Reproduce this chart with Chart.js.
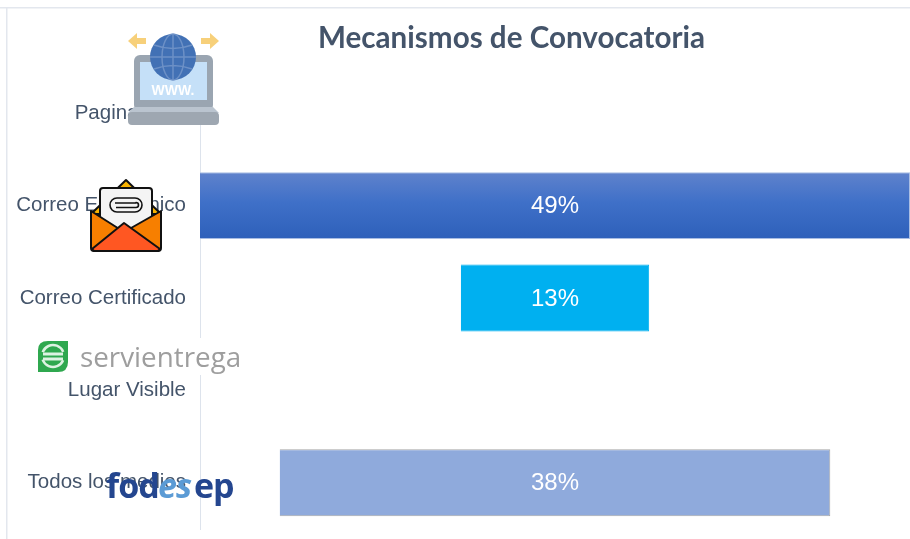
<!DOCTYPE html>
<html><head><meta charset="utf-8">
<style>html,body{margin:0;padding:0;background:#fff;overflow:hidden}#w{position:absolute;left:0;top:0;width:910px;height:539px}</style>
<script src="https://cdn.jsdelivr.net/npm/chart.js@4/dist/chart.umd.min.js"></script>
</head><body><div id="w"><canvas id="c" width="910" height="539"></canvas></div>
<script>
const categories = ["Pagina Web","Correo Electrónico","Correo Certificado","Lugar Visible","Todos los medios"];
const values = [0,49,13,0,38];
const chartTitle = "Mecanismos de Convocatoria";
const barColors = ["#3F6FC4","#3F6FC4","#00B0F0","#8FAADC","#8FAADC"];
const barEdges = ["#A9BDE3","#A9BDE3","#00B0F0","#A6A6A6","#A6A6A6"];
const span = Math.max(...values);

function rr(x,c1,y,w,h,r,fill){x.beginPath();x.roundRect(c1,y,w,h,r);x.fillStyle=fill;x.fill();}

const frame = {id:'frame',beforeDraw(ch){const x=ch.ctx;x.save();x.fillStyle='#fff';x.fillRect(0,0,910,539);
  x.fillStyle='#E3E7EE';x.fillRect(0,7,910,1.5);x.fillRect(6,7,1.5,532);x.restore();}};

const titleShift = {id:'titleShift',afterLayout(ch){ch.titleBlock.left=318;ch.titleBlock.right=705;}};

const barText = {id:'barText',afterDatasetsDraw(ch){const x=ch.ctx,m=ch.getDatasetMeta(0);x.save();
  x.fillStyle='#fff';x.font='24px "Liberation Sans"';x.textAlign='center';x.textBaseline='middle';
  m.data.forEach((b,i)=>{if(values[i]>0){x.fillText(values[i]+'%',ch.scales.x.getPixelForValue(0),b.y+1);}});x.restore();}};

function laptop(x){
  x.fillStyle='#F7D07A';
  [[146,128],[201,219]].forEach(([a,t])=>{const d=t>a?1:-1;x.beginPath();x.moveTo(t,41);x.lineTo(t-d*9,33);x.lineTo(t-d*9,38);x.lineTo(a,38);x.lineTo(a,44);x.lineTo(t-d*9,44);x.lineTo(t-d*9,49);x.closePath();x.fill();});
  rr(x,134,55,79,56,6,'#9AA5B1');
  rr(x,140,62,67,38,0,'#C5E0F8');
  x.fillStyle='#BAC4CF';x.beginPath();x.moveTo(134,107);x.lineTo(213,107);x.lineTo(219,113);x.lineTo(128,113);x.closePath();x.fill();
  rr(x,128,112,91,13,4,'#9EA7B1');
  x.fillStyle='#fff';x.font='bold 14px "Liberation Sans"';x.textAlign='center';x.textBaseline='middle';x.fillText('WWW.',173,91);
  x.beginPath();x.arc(173,57,23,0,7);x.fillStyle='#4271B5';x.fill();
  x.strokeStyle='#6C90C6';x.lineWidth=1.5;
  x.beginPath();x.ellipse(173,57,11,23,0,0,7);x.moveTo(173,34);x.lineTo(173,80);
  x.moveTo(150,57);x.lineTo(196,57);x.moveTo(154,45);x.quadraticCurveTo(173,52,192,45);x.moveTo(154,69);x.quadraticCurveTo(173,62,192,69);x.stroke();
}
function envelope(x){
  x.lineWidth=2;x.strokeStyle='#111';x.lineJoin='round';
  x.fillStyle='#F9B300';x.beginPath();x.moveTo(91,214);x.lineTo(126,180);x.lineTo(161,214);x.closePath();x.fill();x.stroke();
  x.beginPath();x.roundRect(100,188,52,50,3);x.fillStyle='#F4F4F4';x.fill();x.stroke();
  x.lineWidth=1.6;x.beginPath();x.roundRect(110,198,32,14,7);x.moveTo(115,203);x.lineTo(136,203);x.arc(136,205,2.5,-1.57,1.57);x.lineTo(116,207.5);x.stroke();
  x.lineWidth=2;
  x.fillStyle='#F77F00';x.beginPath();x.moveTo(91,211);x.lineTo(124,232);x.lineTo(161,211);x.lineTo(161,248);x.quadraticCurveTo(161,251,158,251);x.lineTo(94,251);x.quadraticCurveTo(91,251,91,248);x.closePath();x.fill();x.stroke();
  x.fillStyle='#FF5722';x.beginPath();x.moveTo(92,249);x.lineTo(124,223);x.lineTo(160,249);x.lineTo(158,251);x.lineTo(94,251);x.closePath();x.fill();x.stroke();
}
function servi(x){
  x.fillStyle='#fff';x.fillRect(78,338,163,37);
  x.fillStyle='#2FA84F';x.beginPath();x.moveTo(38,372);x.lineTo(38,350);x.quadraticCurveTo(38,341,48,341);x.lineTo(68,341);x.lineTo(68,362);x.quadraticCurveTo(68,372,58,372);x.closePath();x.fill();
  x.strokeStyle='#DDF2E2';x.lineWidth=2.5;
  x.beginPath();x.arc(53,356,11,3.5,5.9);x.stroke();
  x.beginPath();x.arc(53,356,11,0.4,2.8);x.stroke();
  x.lineWidth=3;x.beginPath();x.moveTo(43,354);x.lineTo(63,354);x.moveTo(43,359);x.lineTo(63,359);x.stroke();
  x.fillStyle='#9E9E9E';x.font='27.8px "Open Sans"';x.textAlign='left';x.textBaseline='alphabetic';x.fillText('servientrega',80,367);
}
function fode(x){
  x.textBaseline='alphabetic';x.textAlign='left';
  x.font='bold 34px "Open Sans"';x.letterSpacing='-1px';
  x.fillStyle='#24468F';x.fillText('fod',106,498);
  x.fillStyle='#5B9BD5';x.font='italic bold 34px "Open Sans"';x.fillText('es',158,498);
  x.fillStyle='#24468F';x.font='bold 34px "Open Sans"';x.fillText('ep',194,498);
  x.letterSpacing='0px';
}
const logos = {id:'logos',afterDraw(ch){const x=ch.ctx;x.save();servi(x);laptop(x);envelope(x);fode(x);x.restore();}};

new Chart(document.getElementById('c'),{
  type:'bar',
  data:{labels:categories,datasets:[{
    data:values.map(v=>v>0?[-v/2,v/2]:null),
    backgroundColor(c){
      const i=c.dataIndex;
      if(i!==1||!c.chart.chartArea)return barColors[i];
      const s=c.chart.scales.y,g=c.chart.ctx.createLinearGradient(0,s.getPixelForValue(1)-33,0,s.getPixelForValue(1)+33);
      g.addColorStop(0,'#5F82CC');g.addColorStop(.45,'#3F70C8');g.addColorStop(1,'#2E60BA');return g;
    },
    borderColor:barEdges,borderWidth:1,
    categoryPercentage:1,barPercentage:.725
  }]},
  options:{
    indexAxis:'y',responsive:false,animation:false,
    layout:{padding:{left:0,right:0,top:0,bottom:10}},
    plugins:{legend:{display:false},tooltip:{enabled:false},
      title:{display:true,text:chartTitle,align:'center',color:'#44546A',
        font:{family:'Lato',size:29.7,weight:'bold'},padding:{top:21,bottom:10.4}}},
    scales:{
      x:{display:false,min:-span/2,max:span/2,grid:{display:false}},
      y:{afterFit(s){s.width=200;s.paddingTop=0;s.paddingBottom=0;},
        grid:{display:false,drawTicks:false},border:{display:true,color:'#DDE3EC',width:1},
        ticks:{color:'#44546A',padding:14,font:{family:'Liberation Sans',size:20.5}}}
    }
  },
  plugins:[frame,titleShift,barText,logos]
});
</script></body></html>
